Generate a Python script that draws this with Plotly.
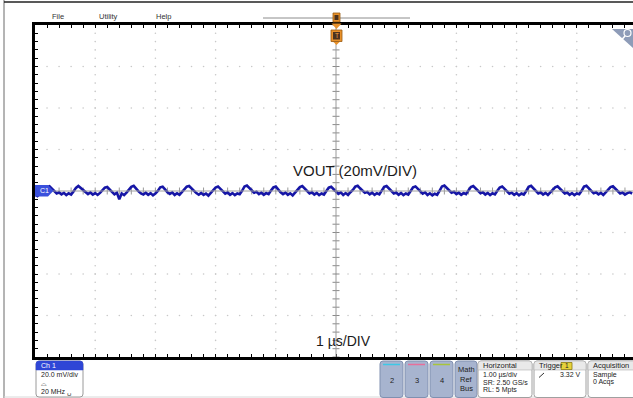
import numpy as np
import plotly.graph_objects as go

# ---------------- data ----------------
dt_us = 0.04  # sample spacing of the listed points, µs
vout_mV = [
    -1.6, -2.4, -1.3, -0.6, 0.9,
    1.9, 2.3, 1.1, -0.3, -1.2, -0.6, -1.6, -0.9, -2.0, -1.1, -1.7, -0.2,
    1.5, 2.4, 1.4, 0.1, -0.9, -1.5, -0.7, -1.7, -1.0, -1.9, -0.9, 0.3,
    1.6, 1.9, 0.6, -0.7, -1.6, -0.8, -4.0, -1.2, -2.0, -0.8, 0.4,
    2.0, 2.5, 1.0, -0.2, -1.1, -1.7, -0.8, -1.8, -1.0, -2.1, -1.2, 0.0,
    1.8, 2.1, 0.8, -0.6, -1.4, -0.7, -1.9, -1.1, -1.8, -0.6, 0.6,
    2.1, 2.4, 1.2, -0.1, -1.0, -1.8, -0.9, -1.9, -1.2, -2.2, -0.9, 0.2,
    1.7, 2.2, 0.9, -0.4, -1.3, -0.7, -1.8, -1.0, -2.0, -1.2, -1.6, 0.1,
    2.2, 2.6, 1.5, 0.2, -0.8, -0.4, -1.5, -0.8, -1.8, -1.0, -1.5, 0.2,
    1.7, 2.1, 0.7, -0.6, -1.5, -0.8, -1.9, -1.1, -2.1, -0.7, 0.5,
    1.9, 2.4, 1.1, -0.2, -1.2, -0.6, -1.7, -0.9, -2.0, -1.2, -1.7, 0.0,
    1.6, 2.0, 0.8, -0.5, -1.4, -0.7, -1.9, -1.0, -1.9, -0.6, 0.5,
    2.1, 2.5, 1.3, 0.0, -0.9, -0.5, -1.6, -0.8, -1.9, -1.1, -1.6, 0.2,
    2.0, 2.4, 1.1, -0.2, -1.2, -0.7, -1.8, -0.9, -2.0, -1.2, -1.7, 0.0,
    1.8, 2.2, 1.0, -0.4, -1.3, -0.7, -1.9, -1.1, -2.1, -1.3, -1.8, 0.1,
    2.2, 2.6, 1.4, 0.1, -0.8, -0.4, -1.5, -0.8, -1.8, -1.0, -1.5, 0.3,
    1.9, 2.4, 1.2, -0.1, -1.1, -0.6, -1.7, -0.9, -2.0, -1.1, -1.6, 0.1,
    1.7, 2.2, 1.0, -0.5, -1.3, -0.8, -1.8, -1.0, -2.1, -1.2, -1.7, 0.0,
    2.0, 2.5, 1.1, -0.3, -1.2, -0.6, -1.7, -0.9, -1.9, -0.7, 0.5,
    1.8, 2.3, 1.1, -0.3, -1.2, -0.7, -1.8, -1.0, -2.0, -1.2, -1.6, 0.1,
    2.1, 2.5, 1.2, -0.1, -1.1, -0.6, -1.6, -0.9, -1.9, -0.7, 0.6,
    1.9, 2.3, 1.1, -0.3, -1.2, -0.7, -1.7, -1.0, -0.6, -1.2,
]
t_us = np.arange(len(vout_mV)) * dt_us

menu_labels = ["File", "Utility", "Help"]
title_text = "VOUT (20mV/DIV)"
time_text = "1 µs/DIV"
ch1_lines = ["20.0 mV/div", "⌓", "20 MHz ␣"]
buttons = ["2", "3", "4"]
horiz_lines = ["1.00 µs/div", "SR: 2.50 GS/s", "RL: 5 Mpts"]
trig_level = "3.32 V"
acq_lines = ["Sample", "0 Acqs"]

# ---------------- geometry ----------------
W, H = 633, 398
L, T, RR, B = 35, 25, 633, 357
px_per_div_x = 60.2
x_max = (RR - L) / px_per_div_x
y_div = 20.0
y_range = [-4 * y_div, 4 * y_div]


def px(x):
    return (x - L) / (RR - L)


def py(y):
    return (B - y) / (B - T)


FONT = "Liberation Sans"
fig = go.Figure()

# grid dots
gx, gy = [], []
for xg in [1, 2, 3, 4, 6, 7, 8, 9]:
    for yv in np.arange(-80, 80.1, 4):
        gx.append(xg); gy.append(yv)
for yg in [-60, -40, -20, 20, 40, 60]:
    for xv in np.arange(0, x_max, 0.2):
        gx.append(xv); gy.append(yg)
fig.add_trace(go.Scatter(x=gx, y=gy, mode="markers",
                         marker=dict(size=1.6, color="#c8c8c8"), hoverinfo="skip"))

# centre cross with ticks
fig.add_shape(type="line", x0=5, x1=5, y0=-80, y1=80, line=dict(color="#9a9a9a", width=1))
fig.add_shape(type="line", x0=0, x1=x_max, y0=0, y1=0, line=dict(color="#a0a0a0", width=1))
cy = np.arange(-80, 80.1, 4)
fig.add_trace(go.Scatter(x=[5] * len(cy), y=cy, mode="markers",
                         marker=dict(symbol="line-ew", size=5, line=dict(width=1, color="#8a8a8a")),
                         hoverinfo="skip"))
cx = np.arange(0, x_max, 0.2)
fig.add_trace(go.Scatter(x=cx, y=[0] * len(cx), mode="markers",
                         marker=dict(symbol="line-ns", size=5, line=dict(width=1, color="#9a9a9a")),
                         hoverinfo="skip"))

# waveform
fig.add_trace(go.Scatter(x=t_us, y=vout_mV, mode="lines",
                         line=dict(color="#1616a6", width=2.6), hoverinfo="skip"))

shapes = []
anns = []


def pline(x0, y0, x1, y1, color, width):
    shapes.append(dict(type="line", xref="paper", yref="paper", x0=px(x0), y0=py(y0),
                       x1=px(x1), y1=py(y1), line=dict(color=color, width=width)))


def ppath(points, fill, line="rgba(0,0,0,0)", width=0):
    d = "M " + " L ".join(f"{px(a):.5f},{py(b):.5f}" for a, b in points) + " Z"
    shapes.append(dict(type="path", xref="paper", yref="paper", path=d,
                       fillcolor=fill, line=dict(color=line, width=width)))


def prect(x0, y0, x1, y1, fill, line="rgba(0,0,0,0)", width=0):
    shapes.append(dict(type="rect", xref="paper", yref="paper", x0=px(x0), y0=py(y0),
                       x1=px(x1), y1=py(y1), fillcolor=fill, line=dict(color=line, width=width)))


def rrect(x0, y0, x1, y1, r, fill, line="#a0a0a0", width=1, top_only=False):
    X = px
    Y = py
    if top_only:
        d = (f"M {X(x0)},{Y(y1)} L {X(x0)},{Y(y0 + r)} Q {X(x0)},{Y(y0)} {X(x0 + r)},{Y(y0)} "
             f"L {X(x1 - r)},{Y(y0)} Q {X(x1)},{Y(y0)} {X(x1)},{Y(y0 + r)} L {X(x1)},{Y(y1)} Z")
    else:
        d = (f"M {X(x0 + r)},{Y(y0)} L {X(x1 - r)},{Y(y0)} Q {X(x1)},{Y(y0)} {X(x1)},{Y(y0 + r)} "
             f"L {X(x1)},{Y(y1 - r)} Q {X(x1)},{Y(y1)} {X(x1 - r)},{Y(y1)} "
             f"L {X(x0 + r)},{Y(y1)} Q {X(x0)},{Y(y1)} {X(x0)},{Y(y1 - r)} "
             f"L {X(x0)},{Y(y0 + r)} Q {X(x0)},{Y(y0)} {X(x0 + r)},{Y(y0)} Z")
    shapes.append(dict(type="path", xref="paper", yref="paper", path=d,
                       fillcolor=fill, line=dict(color=line, width=width)))


def text(x, y, s, size=7, color="#222222", xanchor="left", family=FONT):
    anns.append(dict(x=px(x), y=py(y), xref="paper", yref="paper", text=s, showarrow=False,
                     xanchor=xanchor, yanchor="middle", font=dict(size=size, color=color, family=family)))


# outer frame
pline(4, 0, 4, 398, "#6a6a6a", 1)
pline(4, 2, 633, 2, "#222222", 1.5)
pline(4, 397, 633, 397, "#d8d8d8", 1)

# menu
for lab, xx in zip(menu_labels, [50, 97, 154]):
    text(xx, 17, lab, size=7.5, color="#333333")
pline(263, 18, 410, 18, "#8c8c8c", 1)

# trigger position marker
prect(333, 13, 340, 22, "#e8912a", "#9a5a10", 0.8)
prect(334.5, 15, 338.5, 20, "#4a3320")
ppath([(331.5, 23.5), (341.5, 23.5), (336.5, 29)], "#e8912a")
prect(331, 30, 342, 41.5, "#e8912a", "#9a5a10", 0.8)
prect(333, 32, 340, 39.5, "#4a3320")
text(336.5, 36, "T", size=6.5, color="#f0a040", xanchor="center")
ppath([(333.5, 42), (339.5, 42), (336.5, 45)], "#e8912a")

# magnifier tab top-right
ppath([(612, 29), (633, 29), (633, 48)], "#8e9cb8")
shapes.append(dict(type="circle", xref="paper", yref="paper", x0=px(624), x1=px(631),
                   y0=py(29.5), y1=py(36.5), line=dict(color="white", width=1.2)))
pline(625, 36, 621.5, 40, "white", 1.5)

# C1 label
ppath([(35, 185), (48, 185), (53.5, 190.8), (48, 196.5), (35, 196.5)], "#3a50dc")
text(38, 190.8, "C1", size=7, color="white")

# annotations in plot
text(355, 170, title_text, size=15, color="#1a1a1a", xanchor="center")
text(343, 341, time_text, size=14, color="#1a1a1a", xanchor="center")

# bottom panel: Ch1 box
rrect(36, 361, 83, 397, 3, "white", "#9a9a9a", 1)
rrect(36, 361, 83, 370, 3, "#2f46d6", "#2f46d6", 0.5, top_only=True)
text(39, 365.5, "Ch 1", size=7, color="white")
text(39, 374.5, ch1_lines[0], size=7)
text(39, 383, ch1_lines[1], size=7)
text(39, 391.5, ch1_lines[2], size=7)

# channel buttons
btn_x = [(380, 403), (405, 428), (430, 453)]
btn_col = ["#3cc8e6", "#e86f9a", "#a8c43a"]
for (x0, x1), lab, c in zip(btn_x, buttons, btn_col):
    rrect(x0, 361, x1, 397.5, 3, "#a7b4cf", "#8090b0", 1)
    pline(x0 + 3, 364.5, x1 - 3, 364.5, c, 1.5)
    text((x0 + x1) / 2, 380, lab, size=7.5, color="#222222", xanchor="center")
rrect(455, 361, 477, 397.5, 3, "#a7b4cf", "#8090b0", 1)
for s, yy in zip(["Math", "Ref", "Bus"], [369.5, 379, 388.5]):
    text(466, yy, s, size=7.5, color="#222222", xanchor="center")

# Horizontal box
rrect(478, 361, 532, 397.5, 3, "white", "#a0a0a0", 1)
rrect(478, 361, 532, 370, 3, "#e9e9e9", "#a0a0a0", 0.5, top_only=True)
text(481, 365.5, "Horizontal", size=7.5, color="#222222")
for s, yy in zip(horiz_lines, [374.5, 382, 389.5]):
    text(481, yy, s, size=7)

# Trigger box
rrect(534, 361, 586, 397.5, 3, "white", "#a0a0a0", 1)
rrect(534, 361, 586, 370, 3, "#e9e9e9", "#a0a0a0", 0.5, top_only=True)
text(537, 365.5, "Trigger", size=7.5, color="#222222")
prect(561, 362.5, 572, 369.5, "#e6d23a", "#8a7a10", 0.8)
text(566.5, 366, "1", size=6.5, color="#222222", xanchor="center")
pline(539, 377.5, 544, 373, "#333333", 1)
text(583, 374.5, trig_level, size=7, xanchor="right")

# Acquisition box
rrect(588, 361, 640, 397.5, 3, "white", "#a0a0a0", 1)
rrect(588, 361, 640, 370, 3, "#e9e9e9", "#a0a0a0", 0.5, top_only=True)
text(591, 365.5, "Acquisition", size=7.5, color="#222222")
for s, yy in zip(acq_lines, [374.5, 382]):
    text(591, yy, s, size=7)

fig.update_layout(
    width=W, height=H,
    margin=dict(l=L, r=W - RR, t=T, b=H - B, pad=0),
    paper_bgcolor="white", plot_bgcolor="white",
    showlegend=False,
    shapes=fig.layout.shapes + tuple(shapes),
    annotations=anns,
    xaxis=dict(range=[0, x_max], showgrid=False, zeroline=False, showticklabels=False,
               showline=True, linecolor="black", linewidth=2.5, mirror="ticks",
               ticks="inside", ticklen=3, tickcolor="black", tickwidth=1,
               tick0=0, dtick=0.2, fixedrange=True),
    yaxis=dict(range=y_range, showgrid=False, zeroline=False, showticklabels=False,
               showline=True, linecolor="black", linewidth=2.5, mirror=False,
               ticks="inside", ticklen=3, tickcolor="black", tickwidth=1,
               tick0=0, dtick=4, fixedrange=True),
)

fig.write_html("out.html", config={"displayModeBar": False},
               post_script="document.body.style.margin='0px';document.body.style.overflow='hidden';")
